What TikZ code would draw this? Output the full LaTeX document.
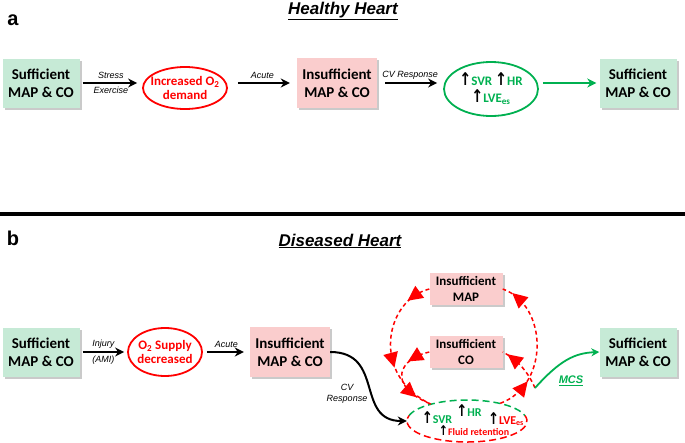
\documentclass[tikz,border=0pt]{standalone}
\usepackage{fontspec}
\setmainfont{Carlito}
\newfontfamily\arialfont{Liberation Sans}
\newfontfamily\arrowfont{DejaVu Sans}
\usepackage{xcolor}
\usetikzlibrary{shapes.geometric,arrows.meta,shadows,decorations.markings}
\definecolor{boxgreen}{RGB}{198,234,214}
\definecolor{boxpink}{RGB}{250,205,205}
\definecolor{okgreen}{RGB}{0,176,80}
\definecolor{badred}{RGB}{255,0,0}
\newcommand{\incr}{{\arrowfont\bfseries\color{black}\scalebox{1.1}[1.35]{↑}}}
\newcommand{\redhead}{\fill[badred, solid] (7pt,0pt) -- (-8pt,7.5pt) -- (-8pt,-7.5pt) -- cycle;}
\tikzset{
  mainbox/.style={rectangle, inner sep=0pt, align=center, font=\fontsize{15}{18}\selectfont\bfseries,
    drop shadow={shadow xshift=2pt, shadow yshift=-2pt, opacity=0.35, fill=black!60}},
  okbox/.style={mainbox, fill=boxgreen, minimum width=77pt, minimum height=49pt},
  badbox/.style={mainbox, fill=boxpink, minimum width=80pt, minimum height=50pt},
  smallbox/.style={mainbox, fill=boxpink, minimum width=73pt, minimum height=32pt, font=\fontsize{13}{16}\selectfont\bfseries},
  redell/.style={ellipse, draw=badred, line width=1.8pt, text=badred, align=center, inner ysep=0pt,
    font=\fontsize{13}{14}\selectfont\bfseries},
  grnell/.style={ellipse, draw=okgreen, line width=1.8pt, text=okgreen, align=center, inner sep=0pt,
    font=\fontsize{13}{17}\selectfont\bfseries},
  flow/.style={line width=2pt, -{Stealth[length=9pt,width=9pt]}},
  lbl/.style={font=\arialfont\itshape\fontsize{9}{10.5}\selectfont, inner sep=3pt, align=center},
  title/.style={font=\arialfont\bfseries\itshape\fontsize{17}{20}\selectfont},
  panel/.style={font=\arialfont\bfseries\fontsize{20}{22}\selectfont},
  loop/.style={draw=badred, line width=1.5pt, dash pattern=on 4pt off 3pt},
  tips/.style 2 args={postaction={decorate}, decoration={markings,
    mark=at position #1 with {\redhead},
    mark=at position #2 with {\redhead}}},
  tip/.style={postaction={decorate}, decoration={markings,
    mark=at position #1 with {\redhead}}},
  gtxt/.style={text=okgreen, font=\fontsize{12}{14}\selectfont\bfseries, inner sep=0pt},
  rtxt/.style={text=badred, font=\fontsize{12}{14}\selectfont\bfseries, inner sep=0pt},
  ftxt/.style={text=badred, font=\fontsize{10}{12}\selectfont\bfseries, inner sep=0pt}
}
\begin{document}
\begin{tikzpicture}[x=1pt, y=-1pt]
  \useasboundingbox (0,0) rectangle (685,442);
  \node[panel] (pa) at (13,20) {a};
  \node[title] (ttla) at (343,11) {\underline{Healthy Heart}};
  \node[okbox] (s1) at (41,83) {Sufficient\\MAP \& CO};
  \node[redell, minimum width=84pt, minimum height=42pt, inner xsep=-6pt] (dem) at (185,88) {Increased O\textsubscript{2}\\demand};
  \node[badbox] (ins1) at (337,83) {Insufficient\\MAP \& CO};
  \node[grnell, minimum width=94pt, minimum height=54pt] (cv1) at (491,89) {\incr SVR\ \incr HR\\\incr LVE\textsubscript{es}};
  \node[okbox] (s2) at (638,83) {Sufficient\\MAP \& CO};
  \draw[flow, shorten <=3pt, shorten >=5pt] (s1.east) -- (s1.east -| dem.west)
    node[lbl, midway, above] (stress) {Stress} node[lbl, midway, below] (exer) {Exercise};
  \draw[flow, shorten <=10pt, shorten >=7pt] (dem.east |- ins1.west) -- (ins1.west)
    node[lbl, midway, above] (acute1) {Acute};
  \draw[flow, shorten <=8pt, shorten >=6pt] (ins1.east) -- (ins1.east -| cv1.west)
    node[lbl, midway, above] (cvr1) {CV Response};
  \draw[flow, okgreen, shorten <=4pt, shorten >=3pt] (cv1.east |- s2.west) -- (s2.west);
  \draw[line width=4pt] (0,214) -- (685,214);
  \node[panel] (pb) at (13,238) {b};
  \node[title] (ttlb) at (340,241) {\underline{Diseased Heart}};
  \node[okbox] (s3) at (41,352) {Sufficient\\MAP \& CO};
  \node[redell, minimum width=74pt, minimum height=48pt, inner xsep=-2pt] (sup) at (165,352) {O\textsubscript{2} Supply\\decreased};
  \node[badbox] (ins2) at (290,352) {Insufficient\\MAP \& CO};
  \node[smallbox] (map) at (466,289) {Insufficient\\MAP};
  \node[smallbox] (co) at (466,352) {Insufficient\\CO};
  \node[ellipse, minimum width=120pt, minimum height=42pt, inner sep=0pt] (resp) at (467,421) {};
  \node[okbox] (s4) at (638,352) {Sufficient\\MAP \& CO};
  \draw[okgreen, line width=1.5pt, dash pattern=on 7pt off 4pt] (resp.center) ++(195:60 and 21) arc[start angle=195, end angle=345, x radius=60, y radius=21];
  \draw[badred, line width=1.5pt, dash pattern=on 7pt off 4pt] (resp.center) ++(345:60 and 21) arc[start angle=345, end angle=555, x radius=60, y radius=21];
  \node[gtxt] (svr2) at (437,418) {\incr SVR};
  \node[gtxt] (hr2) at (469,411) {\incr HR};
  \node[rtxt] (lve2) at (506,419) {\incr LVE\textsubscript{es}};
  \node[ftxt] (fluid) at (474,431) {\incr Fluid retention};
  \draw[flow, shorten <=3pt, shorten >=3pt] (s3.east) -- (s3.east -| sup.west)
    node[lbl, midway, above] (injury) {Injury} node[lbl, midway, below] (ami) {(AMI)};
  \draw[flow, shorten <=4pt, shorten >=6pt] (sup.east) -- (ins2.west)
    node[lbl, midway, above] (acute2) {Acute};
  \draw[flow] (ins2.east) .. controls (385,352) and (355,421) .. (resp.west);
  \node[lbl] (cvr2) at (347,394) {CV\\Response};
  \coordinate (mcs) at (535,388);
  \draw[loop, tips={0.12}{0.6}] (map.west) .. controls (385,300) and (370,375) .. (resp.155);
  \draw[loop, tips={0.2}{0.72}] (co.west) .. controls (400,358) and (385,385) .. (resp.155);
  \draw[loop, tips={0.2}{0.88}] (resp.28) .. controls (550,385) and (548,305) .. (map.east);
  \draw[loop, tip=0.75] (mcs) .. controls (528,372) and (518,360) .. (co.east);
  \draw[okgreen, line width=1.8pt, -{Stealth[length=8pt,width=8pt]}] (mcs) .. controls (560,360) and (575,353) .. (s4.west);
  \node[text=okgreen, font=\arialfont\bfseries\itshape\fontsize{11}{13}\selectfont] (mcslbl) at (571,381) {\underline{MCS}};
\end{tikzpicture}
\end{document}
